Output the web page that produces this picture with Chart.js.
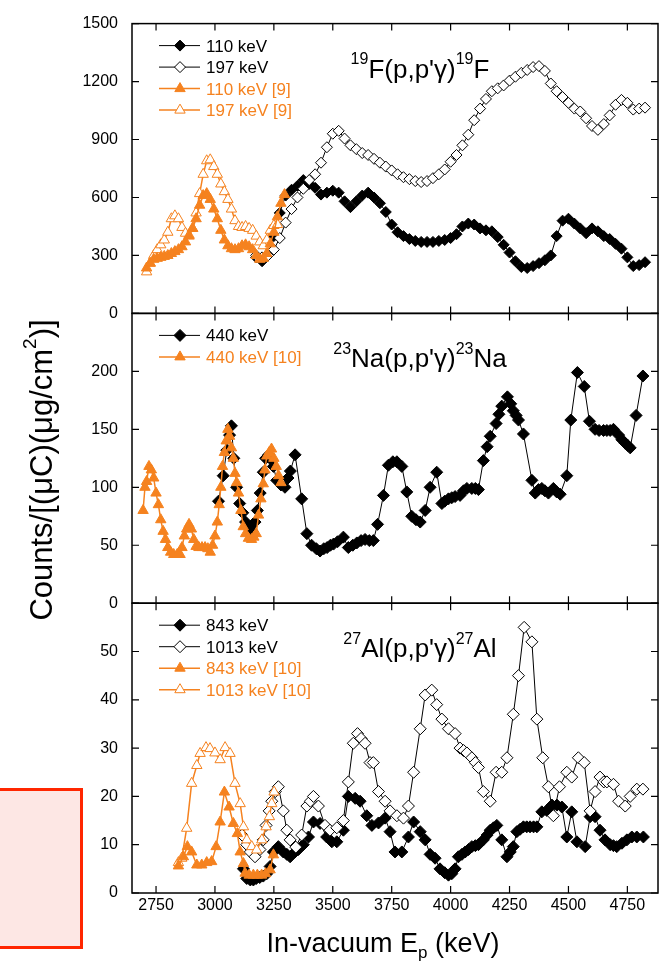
<!DOCTYPE html>
<html lang="en">
<head>
<meta charset="UTF-8">
<title>Inelastic proton scattering yields</title>
<script src="https://cdn.jsdelivr.net/npm/chart.js"></script>
<style>
  html, body { margin: 0; padding: 0; background: #fff; }
  #wrap { position: relative; width: 666px; height: 967px; overflow: hidden; }
  #yields { position: absolute; left: 0; top: 0; }
  .side-box {
    position: absolute; left: -10px; top: 788px; width: 93px; height: 161px;
    box-sizing: border-box; border: 3.5px solid #ff2600; background: #fde7e4;
  }
</style>
</head>
<body>
<div id="wrap">
  <canvas id="yields" width="666" height="967"></canvas>
  <div class="side-box"></div>
</div>
<script>
// ---- 19F(p,p'g)19F ----
const F_E   = [3175,3200,3225,3250,3275,3300,3325,3350,3375,3400,
               3425,3450,3475,3500,3525,3550,3575,3600,3625,3650,
               3675,3700,3725,3750,3775,3800,3825,3850,3875,3900,
               3925,3950,3975,4000,4025,4050,4075,4100,4125,4150,
               4175,4200,4225,4250,4275,4300,4325,4350,4375,4400,
               4425,4450,4475,4500,4525,4550,4575,4600,4625,4650,
               4675,4700,4725,4750,4775,4800,4825];
const F_110 = [290,270,300,400,520,610,640,660,690,670,
               650,615,625,635,625,580,550,580,610,625,
               600,570,525,460,420,400,385,375,370,370,
               370,375,380,390,410,450,465,460,440,430,
               425,395,355,315,270,240,235,245,260,275,
               300,400,480,490,465,440,415,440,425,400,
               385,360,335,290,245,250,265];
const F_197 = [300,290,300,330,390,470,540,600,645,690,
               720,780,860,930,945,905,870,850,830,820,
               800,780,760,740,720,705,695,685,680,685,
               700,720,745,785,820,870,925,1000,1060,1110,
               1150,1165,1180,1205,1225,1245,1260,1275,1280,1255,
               1190,1150,1120,1090,1060,1045,1010,970,950,980,
               1025,1080,1105,1090,1055,1060,1065];
const F9_110_E = [2710,2725,2740,2755,2770,2785,2800,2815,2830,2845,
                  2860,2875,2890,2905,2920,2935,2950,2965,2980,2995,
                  3010,3025,3040,3055,3070,3085,3100,3115,3130,3145,
                  3160,3175,3190,3205,3220,3235,3250,3265,3280,3295];
const F9_110   = [235,260,280,285,290,295,300,310,320,330,
                  345,370,400,440,490,560,610,620,590,540,
                  490,430,380,350,335,330,335,350,355,345,
                  330,300,280,285,310,360,420,500,570,615];
const F9_197_E = [2710,2725,2740,2755,2770,2785,2800,2815,2830,2845,
                  2860,2875,2890,2905,2920,2935,2950,2965,2980,2995,
                  3010,3025,3040,3055,3070,3085,3100,3115,3130,3145,
                  3160,3175,3190,3205,3220,3235,3250,3265];
const F9_197   = [215,260,300,330,355,380,420,490,505,490,
                  445,415,405,440,520,620,720,790,795,760,
                  720,670,630,590,540,480,450,445,450,440,
                  430,400,370,350,380,430,455,460];

// ---- 23Na(p,p'g)23Na ----
const NA_E   = [3015,3035,3050,3062,3070,3080,3092,3105,3118,3130,
                3145,3158,3170,3180,3192,3205,3215,3228,3238,3248,
                3262,3280,3297,3310,3320,3340,3368,3390,3410,3430,
                3446,3462,3476,3490,3503,3520,3545,3566,3585,3602,
                3620,3637,3655,3672,3690,3715,3736,3755,3772,3793,
                3814,3835,3853,3871,3892,3913,3941,3963,3975,3991,
                4005,4019,4040,4055,4069,4090,4105,4118,4139,4155,
                4168,4193,4205,4217,4241,4255,4266,4278,4288,4309,
                4345,4359,4373,4387,4400,4415,4436,4450,4465,4493,
                4510,4538,4567,4589,4613,4630,4649,4663,4677,4691,
                4713,4727,4741,4752,4762,4787,4816];
const NA_440 = [88,110,132,145,153,125,100,86,78,70,
                65,62,70,80,95,113,125,128,124,118,
                106,102,100,108,114,128,90,60,50,47,
                45,47,48,50,51,53,57,48,50,52,
                54,55,54,54,68,93,119,122,122,118,
                96,75,72,70,80,100,113,86,88,90,
                91,92,93,97,99,99,99,98,123,135,
                144,155,163,170,178,172,166,162,158,146,
                106,95,98,99,97,95,99,96,94,110,
                158,199,187,157,150,149,149,149,149,150,
                145,141,138,136,134,162,196];
const NA10_E   = [2695,2703,2710,2720,2730,2740,2750,2760,2770,2780,
                  2790,2800,2812,2825,2840,2852,2860,2870,2880,2890,
                  2900,2910,2920,2932,2945,2958,2970,2980,2990,3000,
                  3010,3018,3025,3032,3040,3048,3055,3062,3070,3078,
                  3085,3092,3100,3110,3120,3130,3142,3155,3165,3175,
                  3185,3195,3205,3212,3220,3230,3240,3250,3260,3270,
                  3280];
const NA10_440 = [80,100,105,118,115,108,95,85,72,62,
                  55,48,44,42,42,42,48,58,64,68,
                  64,55,49,48,48,48,47,44,50,58,
                  70,85,100,118,130,140,150,144,134,125,
                  112,104,95,80,66,60,56,55,57,60,
                  76,90,103,115,127,130,133,125,118,110,
                  104];

// ---- 27Al(p,p'g)27Al ----
const AL_843_E = [3121,3135,3150,3163,3175,3190,3205,3220,3234,3248,
                  3269,3290,3305,3319,3340,3354,3375,3397,3418,3446,
                  3474,3496,3517,3545,3566,3595,3616,3644,3666,3694,
                  3722,3743,3764,3793,3821,3843,3871,3892,3913,3934,
                  3955,3975,3991,4005,4019,4033,4048,4062,4076,4090,
                  4105,4118,4139,4155,4168,4182,4196,4217,4239,4253,
                  4266,4281,4295,4309,4323,4337,4352,4366,4387,4408,
                  4430,4451,4472,4493,4514,4536,4571,4592,4613,4634,
                  4655,4677,4691,4705,4727,4748,4769,4790,4818];
const AL_843   = [5,3,2.7,2.7,3,3.2,3.5,4,5.5,8.5,
                  9.6,8.5,8,7.5,8.5,9,10,11.6,14.7,14.4,
                  11.6,10.6,10.6,13,20,19.6,19,16,14,14.5,
                  15.5,12.7,8.5,8.5,11.6,14.7,12.7,11,8,7.2,
                  5,4.2,3.7,4,5,7.5,8,8.5,9,9.6,
                  9.8,10,11,12,13,13.5,14,11,7.5,8.5,
                  9.6,12.7,13.2,13.7,13.7,13.7,13.7,13.7,16.8,17.1,
                  18.2,18.2,17.8,11.6,16.8,10.6,9.6,15.8,15.8,13,
                  11,10,9.8,9.6,10.3,11,11.6,11.6,11.6];
const AL_1013_E = [3115,3135,3150,3170,3191,3205,3217,3230,3241,3256,
                   3269,3290,3305,3319,3343,3368,3390,3405,3418,3439,
                   3467,3488,3517,3545,3566,3587,3605,3620,3637,3658,
                   3672,3694,3722,3743,3772,3800,3821,3843,3871,3892,
                   3920,3941,3963,3991,4019,4040,4055,4069,4090,4105,
                   4118,4139,4168,4193,4217,4239,4266,4288,4312,4345,
                   4366,4391,4415,4436,4462,4493,4514,4542,4567,4592,
                   4613,4634,4650,4663,4691,4713,4741,4762,4790,4816];
const AL_1013   = [12,10,8.5,7.5,9,11,14,17,19,21,
                   22,17,13,11,9.5,12,18,19,20,18,
                   14,13,13.5,15,23,31,33,32,31,27,
                   27,21,19,17,16,15.5,18,25,34,41,
                   42,39,36,34,33,30,29.5,29,28,27,
                   26,21,19,25,25,28,37,45,55,52,
                   36,28,22,16,22,25,24,28,27,17,
                   21,24,23,23,22.5,19,18,20,21.5,21.5];
const AL10_843_E = [2845,2866,2883,2901,2923,2944,2965,2986,3005,3022,
                    3040,3060,3078,3095,3107,3121,3128,3145,3163,3180,
                    3198,3215,3234,3248];
const AL10_843   = [5.6,7.5,9.6,8.5,5.8,5.8,6.3,6.5,9.6,14.7,
                    20.9,17.8,14.4,12.3,8.5,6.1,4.1,3.7,3.7,3.7,
                    3.7,4,4.8,7.9];
const AL10_1013_E = [2845,2859,2880,2901,2923,2937,2962,2979,3000,3022,
                     3043,3064,3085,3107,3121,3135,3156,3177,3199,3217,
                     3231,3241,3251];
const AL10_1013   = [6.3,7.2,13.4,22.7,26.4,28.9,30.1,29.9,29,27.6,
                     30.1,28.9,22.7,18.5,13.7,11,9.6,8.9,11,13.7,
                     15.8,18.5,20.9];

// axis ticks
const X_TICKS  = [2750,3000,3250,3500,3750,4000,4250,4500,4750];
const F_TICKS  = [0,300,600,900,1200,1500];
const NA_TICKS = [0,50,100,150,200];
const AL_TICKS = [0,10,20,30,40,50];

const FONT = '"Liberation Sans", Arial, Helvetica, sans-serif';
const BLACK = '#000000';
const ORANGE = '#f5821f';
const TICK = 7;

function series(label, xs, ys, axis, color, style, filled, radius, lineWidth, order) {
  return {
    label,
    data: xs.map((x, i) => ({ x, y: ys[i] })),
    yAxisID: axis,
    borderColor: color,
    borderWidth: lineWidth,
    backgroundColor: color,
    pointStyle: style,
    pointRadius: radius,
    pointBackgroundColor: filled ? color : '#ffffff',
    pointBorderColor: color,
    pointBorderWidth: 1,
    tension: 0,
    order
  };
}

function yAxis(min, max, ticks) {
  return {
    type: 'linear',
    position: 'left',
    stack: 'panels',
    stackWeight: 1,
    min, max,
    grid: { display: false, drawTicks: false },
    border: { display: false },
    ticks: { color: BLACK, font: { family: FONT, size: 16 }, padding: 14, callback: v => String(v) },
    afterBuildTicks: s => { s.ticks = ticks.map(value => ({ value })); },
    afterFit: s => { s.width = 132; }
  };
}

// panel titles, as [text, 'sup' | 'sub' | undefined]
const PANELS = [
  { axis: 'yF',  title: [['19', 'sup'], ["F(p,p'\u03b3)"], ['19', 'sup'], ['F']] },
  { axis: 'yNa', title: [['23', 'sup'], ["Na(p,p'\u03b3)"], ['23', 'sup'], ['Na']] },
  { axis: 'yAl', title: [['27', 'sup'], ["Al(p,p'\u03b3)"], ['27', 'sup'], ['Al']] }
];

function drawRich(ctx, parts, x, y, size, align) {
  const segs = parts.map(([t, k]) => {
    const s = k ? Math.round(size * 0.62) : size;
    ctx.font = s + 'px ' + FONT;
    return { t, k, s, w: ctx.measureText(t).width };
  });
  const total = segs.reduce((a, g) => a + g.w, 0);
  let cx = align === 'center' ? x - total / 2 : x;
  ctx.textAlign = 'left';
  ctx.textBaseline = 'alphabetic';
  segs.forEach(g => {
    ctx.font = g.s + 'px ' + FONT;
    const dy = g.k === 'sup' ? -size * 0.52 : g.k === 'sub' ? size * 0.22 : 0;
    ctx.fillText(g.t, cx, y + dy);
    cx += g.w;
  });
}

// frames with inward ticks, per-panel legends and titles, axis titles
const panelDecor = {
  id: 'panelDecor',
  afterDraw(chart) {
    const ctx = chart.ctx;
    const xs = chart.scales.x;
    const area = chart.chartArea;
    ctx.save();
    ctx.fillStyle = BLACK;
    PANELS.forEach(p => {
      const ys = chart.scales[p.axis];
      ctx.strokeStyle = BLACK;
      ctx.lineWidth = 1.5;
      ctx.strokeRect(area.left, ys.top, area.right - area.left, ys.bottom - ys.top);

      ctx.lineWidth = 1.2;
      ctx.beginPath();
      xs.ticks.forEach(t => {
        const px = xs.getPixelForValue(t.value);
        ctx.moveTo(px, ys.top); ctx.lineTo(px, ys.top + TICK);
        ctx.moveTo(px, ys.bottom); ctx.lineTo(px, ys.bottom - TICK);
      });
      ys.ticks.forEach(t => {
        const py = ys.getPixelForValue(t.value);
        ctx.moveTo(area.left, py); ctx.lineTo(area.left + TICK, py);
        ctx.moveTo(area.right, py); ctx.lineTo(area.right - TICK, py);
      });
      ctx.stroke();

      // legend: line, marker, label
      chart.data.datasets.filter(d => d.yAxisID === p.axis).forEach((d, i) => {
        const y = ys.top + 22 + i * 21.5;
        ctx.strokeStyle = d.borderColor;
        ctx.lineWidth = d.borderWidth;
        ctx.beginPath();
        ctx.moveTo(159, y); ctx.lineTo(200, y);
        ctx.stroke();
        ctx.fillStyle = d.pointBackgroundColor;
        ctx.strokeStyle = d.pointBorderColor;
        ctx.lineWidth = d.pointBorderWidth;
        Chart.helpers.drawPoint(ctx, { pointStyle: d.pointStyle, rotation: 0, radius: d.pointRadius, borderWidth: 1 }, 180, y);
        ctx.fillStyle = d.borderColor;
        ctx.font = '17px ' + FONT;
        ctx.textAlign = 'left';
        ctx.textBaseline = 'alphabetic';
        ctx.fillText(d.label, 206, y + 6);
      });

      ctx.fillStyle = BLACK;
      drawRich(ctx, p.title, 420, ys.top + 54, 26, 'center');
    });

    drawRich(ctx, [['In-vacuum E'], ['p', 'sub'], [' (keV)']], 383, 952, 27, 'center');

    ctx.translate(52, 470);
    ctx.rotate(-Math.PI / 2);
    drawRich(ctx, [['Counts/[(\u03bcC)(\u03bcg/cm'], ['2', 'sup'], [')]']], 0, 0, 31, 'center');
    ctx.restore();
  }
};

new Chart(document.getElementById('yields'), {
  type: 'line',
  data: {
    datasets: [
      series('110 keV', F_E, F_110, 'yF', BLACK, 'rectRot', true, 5.5, 1, 2),
      series('197 keV', F_E, F_197, 'yF', BLACK, 'rectRot', false, 5.5, 1, 1),
      series('110 keV [9]', F9_110_E, F9_110, 'yF', ORANGE, 'triangle', true, 6, 1.5, 0),
      series('197 keV [9]', F9_197_E, F9_197, 'yF', ORANGE, 'triangle', false, 6, 1.5, 0),
      series('440 keV', NA_E, NA_440, 'yNa', BLACK, 'rectRot', true, 6, 1, 1),
      series('440 keV [10]', NA10_E, NA10_440, 'yNa', ORANGE, 'triangle', true, 6, 1.5, 0),
      series('843 keV', AL_843_E, AL_843, 'yAl', BLACK, 'rectRot', true, 6, 1, 2),
      series('1013 keV', AL_1013_E, AL_1013, 'yAl', BLACK, 'rectRot', false, 6, 1, 1),
      series('843 keV [10]', AL10_843_E, AL10_843, 'yAl', ORANGE, 'triangle', true, 6, 1.5, 0),
      series('1013 keV [10]', AL10_1013_E, AL10_1013, 'yAl', ORANGE, 'triangle', false, 6, 1.5, 0)
    ]
  },
  options: {
    responsive: false,
    animation: false,
    events: [],
    layout: { padding: { top: 17, right: 8, bottom: 0, left: 0 } },
    plugins: { legend: { display: false }, tooltip: { enabled: false } },
    scales: {
      x: {
        type: 'linear',
        min: 2648, max: 4880,
        grid: { display: false, drawTicks: false },
        border: { display: false },
        ticks: { color: BLACK, font: { family: FONT, size: 16 }, padding: 3, maxRotation: 0, autoSkip: false, callback: v => String(v) },
        afterBuildTicks: s => { s.ticks = X_TICKS.map(value => ({ value })); },
        afterFit: s => { s.height = 74; }
      },
      // stacked panels are laid out bottom-up, so the lowest panel comes first
      yAl: yAxis(0, 60, AL_TICKS),
      yNa: yAxis(0, 250, NA_TICKS),
      yF: yAxis(0, 1500, F_TICKS)
    }
  },
  plugins: [panelDecor]
});
</script>
</body>
</html>
